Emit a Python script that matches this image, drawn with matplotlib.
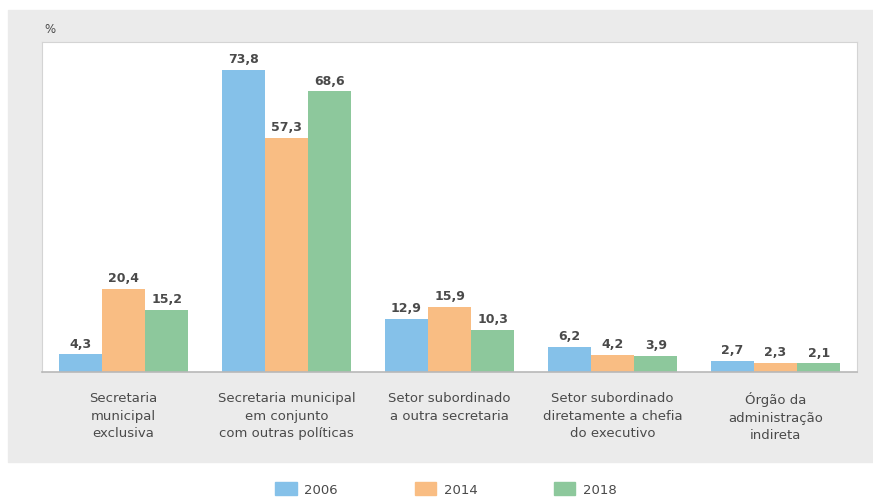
import numpy as np
import matplotlib.pyplot as plt
from matplotlib.patches import Rectangle, Patch

categorias = [
    "Secretaria\nmunicipal\nexclusiva",
    "Secretaria municipal\nem conjunto\ncom outras políticas",
    "Setor subordinado\na outra secretaria",
    "Setor subordinado\ndiretamente a chefia\ndo executivo",
    "Órgão da\nadministração\nindireta",
]
anos = ["2006", "2014", "2018"]
v2006 = [4.3, 73.8, 12.9, 6.2, 2.7]
v2014 = [20.4, 57.3, 15.9, 4.2, 2.3]
v2018 = [15.2, 68.6, 10.3, 3.9, 2.1]
cores = ["#85c1e9", "#f9bd83", "#8dc89c"]

texto = "#4a4a4a"
plt.rcParams['font.family'] = ['DejaVu Sans']

fig = plt.figure(figsize=(8.73, 5.02), dpi=100)
W, H = 873, 502

# painel cinza por trás do gráfico
fig.patches.append(Rectangle((8 / W, 1 - 463 / H), 1 - 8 / W, (463 - 11) / H,
                             transform=fig.transFigure, color="#ebebeb", zorder=-5))

ax = fig.add_axes([42 / W, 1 - 373 / H, (857 - 42) / W, (373 - 43) / H])
ax.set_zorder(2)
ax.set_facecolor("white")

x = np.arange(len(categorias))
larg = 0.265
for i, (vals, cor) in enumerate(zip([v2006, v2014, v2018], cores)):
    pos = x + (i - 1) * larg
    ax.bar(pos, vals, width=larg, color=cor, label=anos[i], zorder=2)
    for px, v in zip(pos, vals):
        ax.text(px, v + 1.2, f"{v:.1f}".replace(".", ","), ha="center", va="bottom",
                fontsize=9, color=texto, fontweight="bold")

ax.set_xlim(-0.5, len(categorias) - 0.5)
ax.set_ylim(0, 80.7)
ax.set_yticks([])
ax.set_xticks(x)
ax.set_xticklabels(categorias, fontsize=9.5, color=texto, linespacing=1.45)
ax.tick_params(axis="x", length=0, pad=14)
for s in ["left", "top", "right"]:
    ax.spines[s].set_color("#d4d4d4")
ax.spines["bottom"].set_color("#b8b8b8")
ax.spines["bottom"].set_linewidth(1.2)

fig.text(44 / W, 1 - 30 / H, "%", fontsize=8.5, color=texto, va="center")

handles = [Patch(color=c, label=a) for c, a in zip(cores, anos)]
fig.legend(handles=handles, loc="center", bbox_to_anchor=(0.511, 1 - 490 / H), ncol=3,
           frameon=False, fontsize=9.5, handlelength=1.6, handleheight=1.2,
           columnspacing=5.8, handletextpad=0.6, labelcolor=texto)

fig.savefig("out.png", dpi=100)
